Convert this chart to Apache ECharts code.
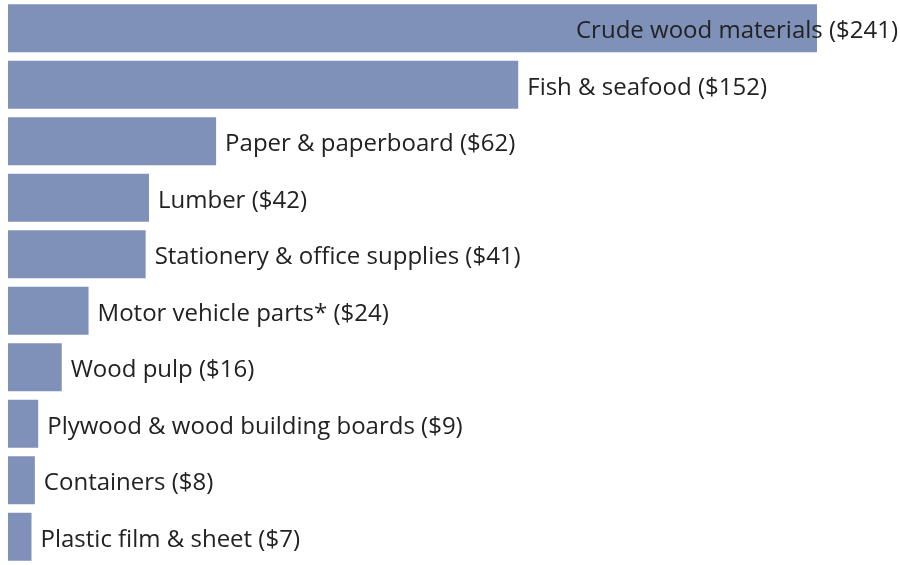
<!DOCTYPE html>
<html>
<head>
<meta charset="utf-8">
<script src="https://cdn.jsdelivr.net/npm/echarts@6/dist/echarts.min.js"></script>
<style>
  html, body { margin: 0; padding: 0; background: #fff; }
  #chart { width: 900px; height: 565px; }
</style>
</head>
<body>
<div id="chart"></div>
<script>
const categories = [
  'Crude wood materials', 'Fish & seafood', 'Paper & paperboard', 'Lumber',
  'Stationery & office supplies', 'Motor vehicle parts*', 'Wood pulp',
  'Plywood & wood building boards', 'Containers', 'Plastic film & sheet'
];
const values = [241, 152, 62, 42, 41, 24, 16, 9, 8, 7];

const chart = echarts.init(document.getElementById('chart'));

const data = values.map((v, i) => {
  const item = { value: v };
  // the longest bar's label does not fit to the right, so it sits over the bar end
  if (i === 0) {
    item.label = { position: [890, 27], align: 'right', verticalAlign: 'middle', offset: [0, 0] };
  }
  return item;
});

chart.setOption({
  animation: false,
  grid: { left: 8, top: 0, width: 809, height: 574 },
  xAxis: { type: 'value', min: 0, max: 241, show: false },
  yAxis: {
    type: 'category', data: categories, inverse: true, show: false
  },
  series: [{
    type: 'bar',
    data: data,
    barWidth: 48,
    itemStyle: { color: '#7f91b8' },
    label: {
      show: true,
      position: 'right',
      distance: 9,
      offset: [0, 3],
      color: '#222',
      fontSize: 24,
      fontFamily: 'Open Sans',
      formatter: p => `${categories[p.dataIndex]} ($${p.value})`
    }
  }]
});
</script>
</body>
</html>
